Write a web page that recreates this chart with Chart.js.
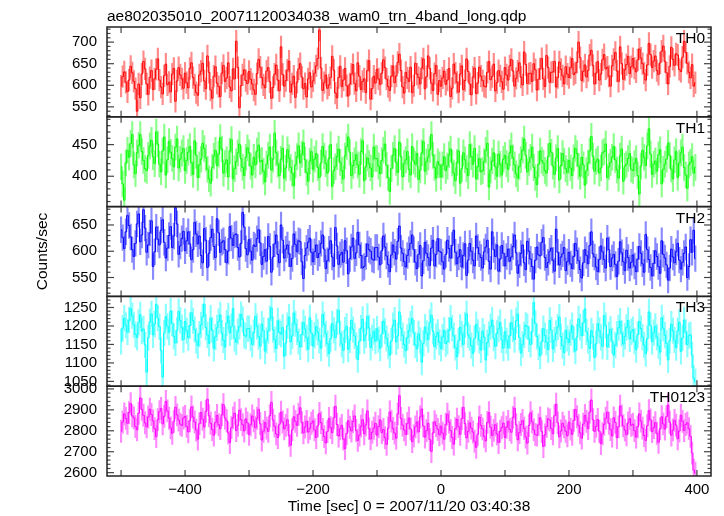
<!DOCTYPE html>
<html>
<head>
<meta charset="utf-8">
<script src="https://cdn.jsdelivr.net/npm/chart.js@4/dist/chart.umd.min.js"></script>
<style>
html,body{margin:0;padding:0;background:#fff;}
#wrap{width:724px;height:516px;position:relative;}
</style>
</head>
<body>
<div id="wrap"><canvas id="c" width="724" height="516"></canvas></div>
<script>
// ---- data (time bin centres, sec; 2.5 s bins) ----
const times = [
-500,-497.5,-495,-492.5,-490,-487.5,-485,-482.5,-480,-477.5,-475,-472.5,-470,-467.5,-465,-462.5,-460,-457.5,-455,-452.5,-450,-447.5,-445,-442.5,-440,-437.5,-435,-432.5,-430,-427.5,-425,-422.5,-420,-417.5,-415,-412.5,-410,-407.5,-405,-402.5,
-400,-397.5,-395,-392.5,-390,-387.5,-385,-382.5,-380,-377.5,-375,-372.5,-370,-367.5,-365,-362.5,-360,-357.5,-355,-352.5,-350,-347.5,-345,-342.5,-340,-337.5,-335,-332.5,-330,-327.5,-325,-322.5,-320,-317.5,-315,-312.5,-310,-307.5,-305,-302.5,
-300,-297.5,-295,-292.5,-290,-287.5,-285,-282.5,-280,-277.5,-275,-272.5,-270,-267.5,-265,-262.5,-260,-257.5,-255,-252.5,-250,-247.5,-245,-242.5,-240,-237.5,-235,-232.5,-230,-227.5,-225,-222.5,-220,-217.5,-215,-212.5,-210,-207.5,-205,-202.5,
-200,-197.5,-195,-192.5,-190,-187.5,-185,-182.5,-180,-177.5,-175,-172.5,-170,-167.5,-165,-162.5,-160,-157.5,-155,-152.5,-150,-147.5,-145,-142.5,-140,-137.5,-135,-132.5,-130,-127.5,-125,-122.5,-120,-117.5,-115,-112.5,-110,-107.5,-105,-102.5,
-100,-97.5,-95,-92.5,-90,-87.5,-85,-82.5,-80,-77.5,-75,-72.5,-70,-67.5,-65,-62.5,-60,-57.5,-55,-52.5,-50,-47.5,-45,-42.5,-40,-37.5,-35,-32.5,-30,-27.5,-25,-22.5,-20,-17.5,-15,-12.5,-10,-7.5,-5,-2.5,
0,2.5,5,7.5,10,12.5,15,17.5,20,22.5,25,27.5,30,32.5,35,37.5,40,42.5,45,47.5,50,52.5,55,57.5,60,62.5,65,67.5,70,72.5,75,77.5,80,82.5,85,87.5,90,92.5,95,97.5,
100,102.5,105,107.5,110,112.5,115,117.5,120,122.5,125,127.5,130,132.5,135,137.5,140,142.5,145,147.5,150,152.5,155,157.5,160,162.5,165,167.5,170,172.5,175,177.5,180,182.5,185,187.5,190,192.5,195,197.5,
200,202.5,205,207.5,210,212.5,215,217.5,220,222.5,225,227.5,230,232.5,235,237.5,240,242.5,245,247.5,250,252.5,255,257.5,260,262.5,265,267.5,270,272.5,275,277.5,280,282.5,285,287.5,290,292.5,295,297.5,
300,302.5,305,307.5,310,312.5,315,317.5,320,322.5,325,327.5,330,332.5,335,337.5,340,342.5,345,347.5,350,352.5,355,357.5,360,362.5,365,367.5,370,372.5,375,377.5,380,382.5,385,387.5,390,392.5,395,397.5
];
const th0 = [
598,620,631,607,585,612,644,629,609,592,540,603,571,626,655,638,603,579,618,634,590,615,637,661,612,596,580,622,649,601,607,585,626,639,563,610,641,624,615,593,
628,606,594,639,652,618,601,583,577,624,633,651,610,592,668,630,589,570,621,643,605,597,574,628,646,609,617,652,596,587,638,615,702,641,548,599,624,636,611,604,
632,614,603,589,579,627,660,642,618,601,594,633,641,608,570,595,626,647,612,587,689,625,598,611,635,656,584,603,621,572,607,638,650,619,592,604,573,615,629,596,
610,628,645,662,728,640,588,606,624,593,601,618,667,635,582,571,618,644,597,612,639,599,575,603,626,648,604,587,652,621,590,609,615,583,634,657,568,592,621,605,
637,615,602,628,659,641,614,597,588,621,645,606,621,653,672,634,596,582,630,617,609,642,583,599,651,626,618,603,640,661,592,620,668,639,605,588,627,646,579,611,
598,617,633,602,612,639,574,593,649,628,607,584,626,645,590,611,661,632,603,578,619,640,581,605,642,621,611,598,596,630,655,613,620,649,587,606,634,622,608,591,
641,624,612,645,660,633,598,616,633,652,619,601,677,648,604,627,628,609,650,636,589,614,638,662,615,597,669,641,607,630,631,655,596,618,654,637,622,603,643,626,
618,641,662,625,629,653,700,664,611,632,647,619,634,670,681,646,603,628,655,612,626,659,671,638,642,621,598,645,660,676,633,609,689,650,614,636,648,667,627,643,
662,640,631,659,684,663,650,628,612,647,697,671,641,656,668,634,625,652,679,691,655,629,603,644,688,660,646,673,670,637,632,665,702,676,651,630,617,648,598,606
];
const th1 = [
415,388,362,421,441,430,452,466,418,404,437,449,466,439,425,412,409,433,448,457,431,420,470,451,419,407,440,462,402,426,455,438,428,415,446,459,413,427,437,444,
409,425,438,447,421,403,456,433,398,418,427,452,444,429,411,396,389,414,432,441,417,435,461,443,405,420,426,399,440,458,396,412,423,437,451,428,414,401,430,445,
437,416,402,430,418,440,449,423,425,408,391,419,433,446,410,427,468,437,419,401,427,444,397,413,442,429,414,405,385,418,431,448,421,435,453,426,406,392,424,439,
411,427,436,414,398,421,447,432,420,405,428,450,384,409,415,431,443,422,409,396,432,447,462,438,401,417,425,434,418,403,439,456,393,415,429,420,413,399,446,428,
428,416,404,425,441,451,417,398,376,412,433,444,422,406,454,431,399,420,426,439,411,402,447,424,419,436,395,410,437,455,408,423,430,442,466,433,414,397,423,418,
399,418,431,409,416,434,443,421,405,393,422,440,389,412,437,426,412,401,450,431,419,444,396,415,428,407,409,423,441,452,383,410,424,437,415,400,435,419,402,427,
433,420,411,437,448,429,418,404,397,415,426,441,459,433,407,422,430,446,414,398,387,419,440,425,421,409,405,431,452,438,416,403,429,444,394,417,436,424,412,406,
425,413,401,429,444,436,416,400,430,418,386,409,421,440,463,432,408,423,427,405,413,437,439,451,398,415,422,430,447,426,410,397,432,443,392,416,419,428,436,411,
409,420,428,401,372,416,441,430,417,448,475,435,403,419,424,408,434,442,388,411,419,427,452,433,411,396,426,439,398,421,437,446,414,402,381,418,422,431,405,414
];
const th2 = [
641,626,605,637,668,649,627,603,590,615,652,671,618,631,679,644,598,612,635,658,571,599,646,623,612,640,660,617,587,606,630,647,607,629,683,652,594,610,624,638,
601,620,637,614,584,603,655,633,614,629,592,578,643,621,569,596,626,642,609,588,662,635,598,617,620,603,578,600,647,625,611,631,633,607,589,615,674,646,605,593,
622,600,583,612,609,624,641,616,575,590,603,581,628,609,560,589,614,631,594,578,650,621,587,604,612,595,571,586,633,613,599,620,618,580,548,592,606,617,625,598,
580,599,612,588,596,615,631,604,567,582,604,620,589,571,645,610,575,593,598,579,620,601,557,586,608,625,586,597,636,612,592,568,571,590,614,603,600,585,583,607,
607,589,574,601,629,608,591,575,561,593,612,598,585,619,648,606,596,580,570,592,603,615,631,603,579,567,594,611,553,582,617,596,588,573,606,621,572,594,624,600,
598,580,566,594,621,605,587,611,640,598,576,589,603,570,592,614,554,583,615,600,583,572,629,607,595,588,568,599,608,621,581,566,637,603,590,612,562,585,611,596,
572,590,604,581,589,609,631,597,558,574,596,612,578,565,619,600,585,571,547,583,608,593,591,617,626,588,569,579,600,606,583,562,642,598,574,589,595,607,563,580,
598,576,567,590,615,601,582,565,549,578,603,592,576,611,637,595,589,570,561,584,610,599,584,568,625,603,571,587,594,575,552,581,618,597,580,563,602,588,568,579,
593,572,561,585,609,596,576,560,632,603,584,569,553,577,601,590,571,558,620,594,587,574,545,568,604,589,578,599,615,583,566,579,596,608,550,571,622,598,640,586
];
const th3 = [
1158,1194,1221,1202,1184,1216,1247,1228,1203,1177,1169,1210,1230,1186,1192,1149,1075,1168,1211,1233,1176,1205,1258,1221,1198,1134,1062,1181,1225,1199,1183,1240,1207,1172,1154,1188,1239,1215,1195,1163,
1212,1187,1168,1201,1236,1214,1190,1160,1147,1178,1203,1225,1259,1196,1176,1153,1221,1189,1139,1170,1195,1212,1230,1181,1162,1143,1208,1227,1181,1198,1247,1166,1156,1185,1199,1231,1218,1175,1172,1193,
1193,1167,1150,1182,1226,1199,1171,1145,1205,1188,1132,1161,1187,1220,1249,1190,1163,1139,1214,1183,1178,1196,1118,1154,1201,1224,1157,1173,1235,1206,1184,1158,1143,1177,1209,1192,1168,1137,1222,1181,
1146,1175,1198,1183,1160,1140,1231,1204,1179,1152,1125,1166,1206,1188,1168,1211,1242,1179,1151,1134,1189,1199,1137,1162,1215,1190,1173,1147,1109,1158,1194,1218,1160,1176,1226,1195,1142,1168,1185,1159,
1192,1163,1140,1178,1213,1186,1166,1145,1121,1159,1201,1216,1157,1173,1238,1194,1174,1150,1133,1169,1187,1205,1220,1181,1149,1138,1179,1161,1102,1153,1197,1180,1163,1210,1229,1186,1144,1171,1183,1156,
1139,1170,1188,1152,1158,1189,1221,1195,1173,1142,1117,1160,1196,1178,1150,1203,1233,1176,1168,1147,1126,1166,1204,1183,1161,1135,1186,1170,1108,1155,1177,1198,1216,1167,1145,1180,1192,1209,1162,1140,
1184,1160,1141,1173,1209,1191,1163,1214,1232,1169,1127,1150,1176,1202,1198,1165,1150,1185,1264,1207,1171,1143,1119,1158,1193,1174,1156,1136,1215,1189,1138,1162,1180,1197,1224,1171,1147,1128,1188,1166,
1155,1182,1201,1163,1132,1170,1219,1197,1174,1208,1246,1184,1160,1139,1187,1171,1115,1152,1206,1188,1169,1145,1228,1201,1143,1176,1191,1160,1122,1148,1178,1195,1213,1180,1151,1172,1196,1215,1165,1184,
1190,1159,1136,1177,1212,1193,1170,1148,1125,1166,1238,1201,1158,1182,1199,1170,1146,1129,1222,1194,1175,1153,1108,1160,1205,1187,1162,1141,1187,1210,1131,1168,1216,1183,1150,1174,1176,1121,1058,1049
];
const th0123 = [
2798,2842,2881,2859,2836,2887,2930,2871,2862,2820,2805,2884,2957,2902,2874,2838,2819,2866,2903,2878,2847,2810,2772,2853,2891,2907,2833,2869,2940,2895,2860,2814,2788,2845,2912,2876,2851,2832,2826,2861,
2869,2821,2795,2848,2914,2866,2842,2803,2760,2834,2887,2855,2818,2893,2951,2872,2836,2806,2779,2840,2873,2829,2810,2877,2925,2861,2848,2790,2744,2815,2862,2884,2801,2826,2898,2853,2829,2799,2857,2838,
2783,2829,2871,2847,2815,2860,2902,2834,2756,2798,2840,2813,2797,2872,2936,2851,2822,2785,2768,2831,2889,2842,2809,2826,2853,2777,2731,2804,2867,2845,2826,2879,2910,2839,2790,2818,2845,2794,2812,2836,
2847,2805,2768,2824,2883,2839,2806,2772,2742,2796,2859,2815,2791,2862,2917,2830,2775,2809,2826,2760,2715,2787,2848,2817,2799,2844,2871,2801,2754,2779,2822,2853,2786,2828,2895,2810,2761,2793,2813,2836,
2779,2820,2852,2791,2806,2767,2735,2812,2890,2846,2811,2789,2764,2881,2968,2859,2827,2804,2783,2835,2861,2809,2748,2776,2819,2842,2795,2866,2904,2823,2770,2801,2836,2758,2701,2790,2843,2825,2807,2781,
2822,2789,2760,2831,2879,2842,2801,2768,2736,2810,2855,2820,2783,2858,2912,2834,2766,2797,2838,2813,2794,2750,2721,2784,2866,2826,2809,2773,2752,2840,2887,2817,2778,2802,2829,2785,2744,2798,2815,2837,
2768,2817,2845,2806,2793,2864,2908,2829,2757,2791,2830,2849,2812,2770,2741,2825,2886,2843,2804,2782,2779,2828,2862,2796,2725,2780,2820,2857,2851,2811,2786,2872,2927,2838,2771,2799,2836,2819,2798,2776,
2841,2808,2783,2850,2902,2867,2826,2790,2765,2832,2873,2845,2810,2889,2947,2853,2797,2821,2854,2798,2739,2786,2831,2860,2889,2836,2806,2775,2862,2840,2768,2819,2918,2871,2824,2803,2781,2838,2858,2826,
2832,2801,2770,2819,2881,2846,2813,2777,2754,2824,2896,2852,2796,2815,2839,2788,2745,2809,2867,2833,2808,2868,2923,2841,2779,2804,2850,2827,2762,2799,2874,2845,2801,2830,2838,2810,2773,2694,2612,2598
];
// typical 1-sigma error per bin for each band
const errors = [25, 20.5, 24.5, 34.5, 53];
const panelNames = ['TH0', 'TH1', 'TH2', 'TH3', 'TH0123'];
const yTickValues = [
  [550, 600, 650, 700],
  [400, 450],
  [550, 600, 650],
  [1050, 1100, 1150, 1200, 1250],
  [2600, 2700, 2800, 2900, 3000]
];
const xTickValues = [-400, -200, 0, 200, 400];
const titleText = 'ae802035010_20071120034038_wam0_trn_4band_long.qdp';
const xTitleText = 'Time [sec] 0 = 2007/11/20 03:40:38';
const yTitleText = 'Counts/sec';

// ---- styling / chart ----
const FONT = "'Liberation Sans', Arial, Helvetica, sans-serif";
Chart.defaults.font.family = FONT;
Chart.defaults.color = '#000';

const series = [th0, th1, th2, th3, th0123];
const lineColors = ['#ff0000', '#00ff00', '#0000ff', '#00ffff', '#ff00ff'];
const errColors = ['#ff8a8a', '#8aff8a', '#8a8aff', '#8affff', '#ff8aff'];
const yRanges = [[527, 735], [352, 494], [514, 685], [1037, 1280], [2584, 3013]];
const yMajorStep = [50, 50, 50, 50, 100];
const X_MIN = -522, X_MAX = 422;

const datasets = [];
series.forEach((vals, i) => {
  datasets.push({
    type: 'line', label: panelNames[i], yAxisID: 'y' + i,
    data: times.map((t, j) => ({x: t, y: vals[j]})),
    borderColor: lineColors[i], borderWidth: 1, pointRadius: 0,
    stepped: 'middle', fill: false, order: 0
  });
  datasets.push({
    type: 'bar', label: panelNames[i] + ' err', yAxisID: 'y' + i,
    data: times.map((t, j) => ({x: t, y: [vals[j] - errors[i], vals[j] + errors[i]]})),
    backgroundColor: errColors[i], borderWidth: 0, barThickness: 1.5,
    grouped: false, order: 1
  });
});

const scales = {
  x: {
    type: 'linear', position: 'bottom', min: X_MIN, max: X_MAX, offset: false,
    afterBuildTicks: s => { s.ticks = xTickValues.map(v => ({value: v})); },
    ticks: {
      autoSkip: false, maxRotation: 0, padding: 5, font: {size: 15}, color: '#000',
      callback: v => (v < 0 ? '\u2212' + (-v) : String(v))
    },
    grid: {display: false, drawTicks: false, offset: false}, border: {display: false},
    title: {display: true, text: xTitleText, font: {size: 15.5}, color: '#000', padding: {top: 0, bottom: 0}},
    afterFit: s => { s.height = 40; }
  },
  xTop: {
    type: 'linear', position: 'top', min: X_MIN, max: X_MAX, offset: false,
    ticks: {display: false}, grid: {display: false, drawTicks: false}, border: {display: false},
    title: {display: true, text: titleText, align: 'start', font: {size: 15.5}, color: '#000', padding: {top: 7, bottom: 0}},
    afterFit: s => { s.height = 27; }
  }
};
for (let i = 0; i < 5; i++) {
  scales['y' + i] = {
    type: 'linear', position: 'left', stack: 'panels', stackWeight: 1, weight: 5 - i,
    min: yRanges[i][0], max: yRanges[i][1],
    afterBuildTicks: s => { s.ticks = yTickValues[i].map(v => ({value: v})); },
    ticks: {autoSkip: false, padding: 10, font: {size: 15}, color: '#000', callback: v => String(v)},
    grid: {display: false, drawTicks: false}, border: {display: false},
    title: i === 2 ? {display: true, text: yTitleText, font: {size: 15.5}, color: '#000', padding: {top: 33, bottom: 0}} : {display: false},
    afterFit: s => { s.width = 107; }
  };
}

const framePlugin = {
  id: 'qdpFrame',
  beforeDatasetDraw(chart, args) {
    const ys = chart.scales[args.meta.yAxisID];
    const a = chart.chartArea, ctx = chart.ctx;
    ctx.save();
    ctx.beginPath();
    ctx.rect(a.left, ys.top, a.right - a.left, ys.bottom - ys.top);
    ctx.clip();
  },
  afterDatasetDraw(chart) { chart.ctx.restore(); },
  afterDraw(chart) {
    const ctx = chart.ctx, a = chart.chartArea, xs = chart.scales.x;
    const seg = (x1, y1, x2, y2) => { ctx.beginPath(); ctx.moveTo(x1, y1); ctx.lineTo(x2, y2); ctx.stroke(); };
    ctx.save();
    for (let i = 0; i < 5; i++) {
      const ys = chart.scales['y' + i];
      const step = yMajorStep[i], minor = step / 5;
      ctx.strokeStyle = '#444'; ctx.lineWidth = 1.2;
      for (let v = Math.ceil(ys.min / minor) * minor; v <= ys.max; v += minor) {
        const y = ys.getPixelForValue(v);
        const major = Math.abs(v / step - Math.round(v / step)) < 1e-6;
        const len = major ? 7 : 3.5;
        seg(a.left, y, a.left + len, y);
        seg(a.right, y, a.right - len, y);
      }
      for (let v = -500; v <= 400; v += 100) {
        const x = xs.getPixelForValue(v);
        seg(x, ys.top, x, ys.top + 6);
        seg(x, ys.bottom, x, ys.bottom - 6);
      }
      ctx.strokeStyle = '#222'; ctx.lineWidth = 1.5;
      ctx.strokeRect(a.left, ys.top, a.right - a.left, ys.bottom - ys.top);
      ctx.fillStyle = '#000'; ctx.font = '15.5px ' + FONT;
      ctx.textAlign = 'right'; ctx.textBaseline = 'alphabetic';
      ctx.fillText(panelNames[i], a.right - 6, ys.top + 16);
    }
    ctx.restore();
  }
};

new Chart(document.getElementById('c'), {
  type: 'line',
  data: {datasets},
  options: {
    responsive: false, animation: false, devicePixelRatio: 1,
    layout: {padding: {left: 0, right: 13, top: 0, bottom: 0}},
    plugins: {legend: {display: false}, tooltip: {enabled: false}, title: {display: false}},
    scales
  },
  plugins: [framePlugin]
});
</script>
</body>
</html>
